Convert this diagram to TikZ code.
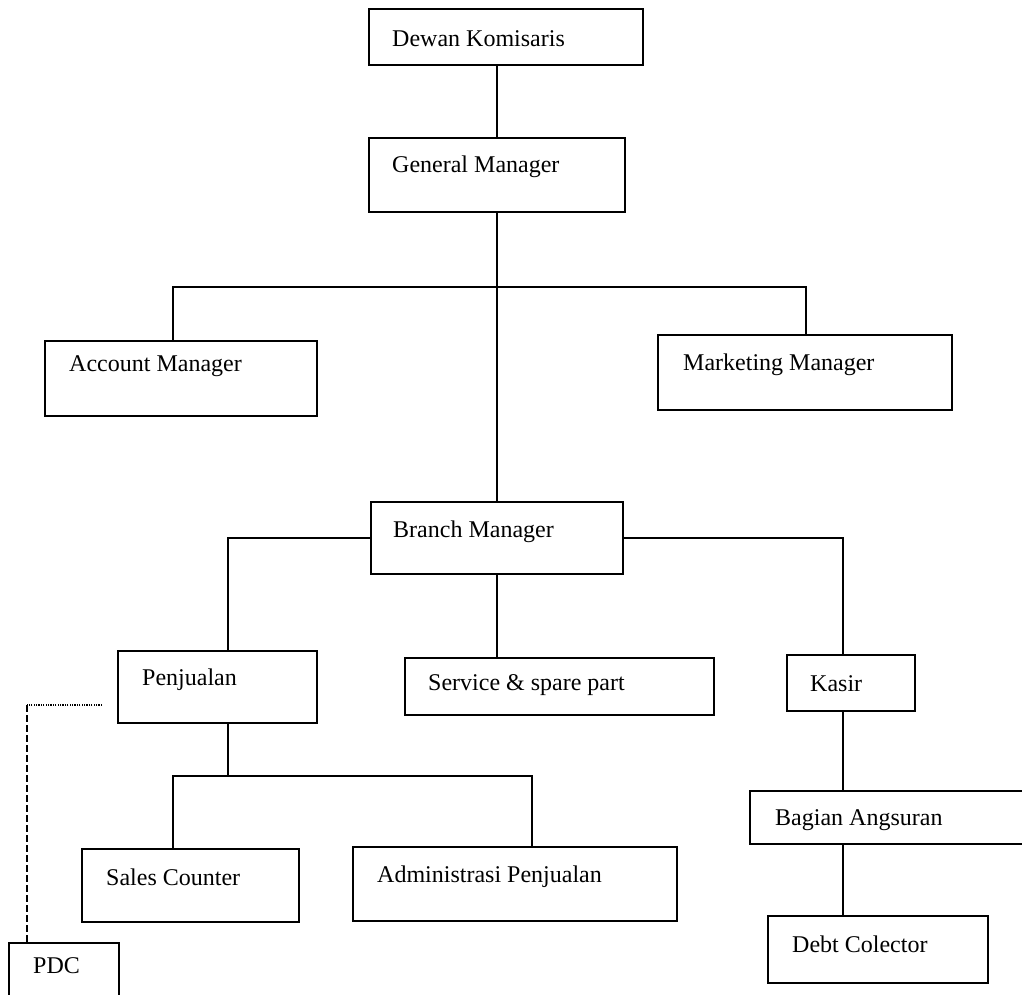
\documentclass[tikz,border=0pt]{standalone}
\usepackage{fontspec}
\setmainfont{Liberation Serif}
\begin{document}
\begin{tikzpicture}[x=1pt,y=-1pt,
  orgbox/.style={draw,line width=1.6pt,inner sep=0pt,rectangle},
  lbl/.style={anchor=base west,inner sep=0pt,font=\fontsize{24}{28}\selectfont},
  conn/.style={line width=1.5pt},
  dotconn/.style={line width=1.2pt,dash pattern=on 1.2pt off 1.2pt},
  dashconn/.style={line width=1.5pt,dash pattern=on 7pt off 3pt}]
\useasboundingbox (0,0) rectangle (1022,995);
% boxes
\node[orgbox,minimum width=274pt,minimum height=56pt] (dk) at (506,37) {};
\node[orgbox,minimum width=256pt,minimum height=74pt] (gm) at (497,175) {};
\node[orgbox,minimum width=272pt,minimum height=75pt] (am) at (181,378.5) {};
\node[orgbox,minimum width=294pt,minimum height=75pt] (mm) at (805,372.5) {};
\node[orgbox,minimum width=252pt,minimum height=72pt] (bm) at (497,538) {};
\node[orgbox,minimum width=199pt,minimum height=72pt] (pj) at (217.5,687) {};
\node[orgbox,minimum width=309pt,minimum height=57pt] (sv) at (559.5,686.5) {};
\node[orgbox,minimum width=128pt,minimum height=56pt] (ks) at (851,683) {};
\node[orgbox,minimum width=217pt,minimum height=73pt] (sc) at (190.5,885.5) {};
\node[orgbox,minimum width=324pt,minimum height=74pt] (ad) at (515,884) {};
\node[orgbox,minimum width=290pt,minimum height=53pt] (ba) at (895,817.5) {};
\node[orgbox,minimum width=220pt,minimum height=67pt] (dc) at (878,949.5) {};
\node[orgbox,minimum width=110pt,minimum height=67pt] (pdc) at (64,976.5) {};
% labels
\node[lbl] (dkt) at (392,47) {Dewan Komisaris};
\node[lbl] (gmt) at (392,173) {General Manager};
\node[lbl] (amt) at (69,371) {Account Manager};
\node[lbl] (mmt) at (683,370) {Marketing Manager};
\node[lbl] (bmt) at (393,537) {Branch Manager};
\node[lbl] (pjt) at (142,685) {Penjualan};
\node[lbl] (svt) at (428,690) {Service \& spare part};
\node[lbl] (kst) at (810,691) {Kasir};
\node[lbl] (sct) at (106,885) {Sales Counter};
\node[lbl] (adt) at (377,882) {Administrasi Penjualan};
\node[lbl] (bat) at (775,825) {Bagian Angsuran};
\node[lbl] (dct) at (792,952) {Debt Colector};
\node[lbl] (pdct) at (33,973) {PDC};
% junction coordinates
\coordinate (hL) at (173,287);
\coordinate (hR) at (806,287);
\coordinate (bl) at (228,538);
\coordinate (br) at (843,538);
\coordinate (pl) at (228,776);
\coordinate (sl) at (173,776);
\coordinate (sr) at (532,776);
\coordinate (dt) at (27,705);
\coordinate (de) at (102,705);
% connectors
\draw[conn] (gm.north |- dk.south) -- (gm.north);
\draw[conn] (gm.south) -- (bm.north);
\draw[conn] (am.north -| hL) -- (hL) -- (hR) -- (mm.north -| hR);
\draw[conn] (bm.west) -- (bl) -- (pj.north -| bl);
\draw[conn] (bm.east) -- (br) -- (ks.north -| br);
\draw[conn] (bm.south) -- (sv.north -| bm.south);
\draw[conn] (pj.south -| pl) -- (pl);
\draw[conn] (sc.north -| sl) -- (sl) -- (sr) -- (ad.north -| sr);
\draw[conn] (ks.south -| br) -- (ba.north -| br);
\draw[conn] (ba.south -| br) -- (dc.north -| br);
\draw[dotconn] (de) -- (dt);
\draw[dashconn] (dt) -- (pdc.north -| dt);
\end{tikzpicture}
\end{document}
